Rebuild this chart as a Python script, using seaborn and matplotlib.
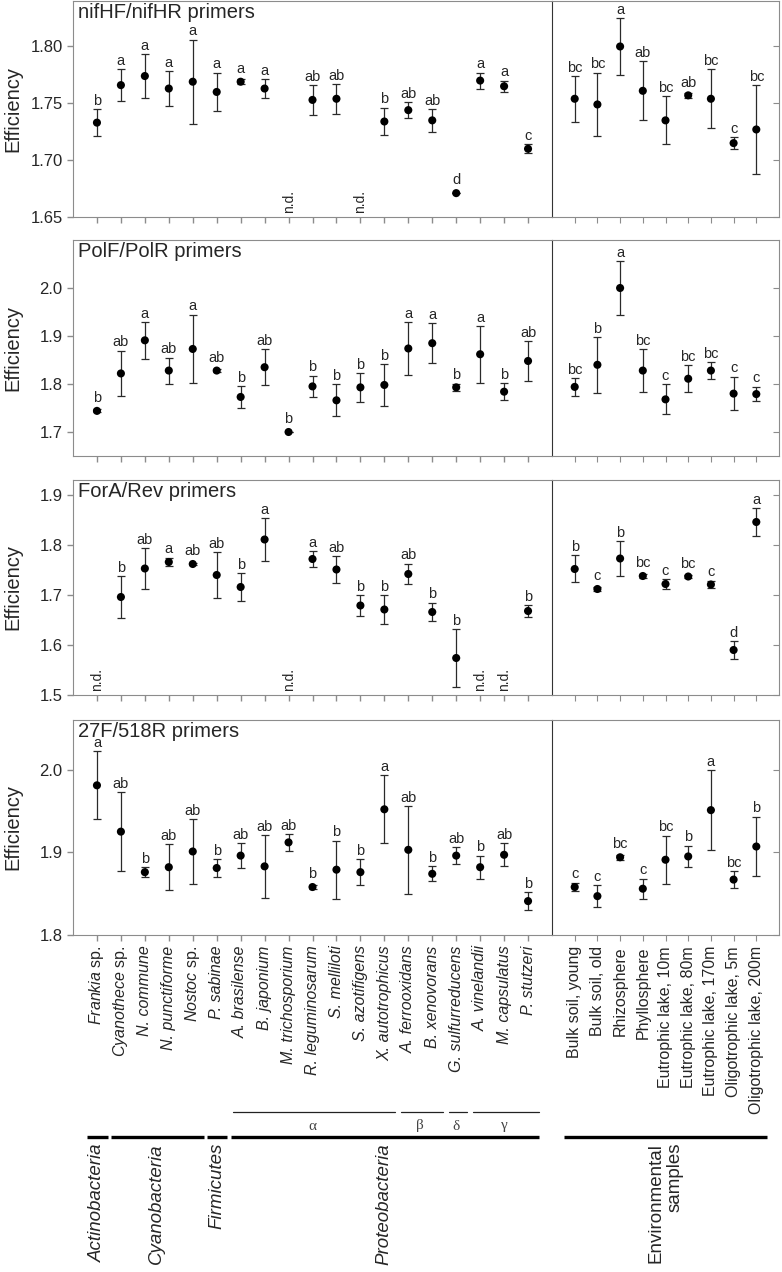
import numpy as np
import pandas as pd
import matplotlib
matplotlib.use('Agg')
import matplotlib.pyplot as plt
import matplotlib.transforms as mtransforms
import seaborn as sns

# category names
species = ['Frankia $\\mathrm{sp.}$', 'Cyanothece $\\mathrm{sp.}$', 'N. commune', 'N. punctiforme',
           'Nostoc $\\mathrm{sp.}$', 'P. sabinae', 'A. brasilense', 'B. japonium', 'M. trichosporium',
           'R. leguminosarum', 'S. melliloti', 'S. azotifigens', 'X. autotrophicus', 'A. ferrooxidans',
           'B. xenovorans', 'G. sulfurreducens', 'A. vinelandii', 'M. capsulatus', 'P. stutzeri']
env_samples = ['Bulk soil, young', 'Bulk soil, old', 'Rhizosphere', 'Phyllosphere',
               'Eutrophic lake, 10m', 'Eutrophic lake, 80m', 'Eutrophic lake, 170m',
               'Oligotrophic lake, 5m', 'Oligotrophic lake, 200m']

nan = np.nan

# nifHF/nifHR
nif_sp_mean = [1.733, 1.766, 1.774, 1.763, 1.769, 1.760, 1.769, 1.763, nan, 1.753, 1.754, nan,
               1.734, 1.744, 1.735, 1.671, 1.770, 1.765, 1.710]
nif_sp_err = [0.012, 0.014, 0.019, 0.015, 0.037, 0.017, 0.002, 0.008, nan, 0.013, 0.013, nan,
              0.012, 0.007, 0.010, 0.0, 0.007, 0.005, 0.004]
nif_sp_let = ['b', 'a', 'a', 'a', 'a', 'a', 'a', 'a', '', 'ab', 'ab', '', 'b', 'ab', 'ab', 'd', 'a', 'a', 'c']
nif_env_mean = [1.754, 1.749, 1.800, 1.761, 1.735, 1.757, 1.754, 1.715, 1.727]
nif_env_err = [0.020, 0.028, 0.025, 0.026, 0.021, 0.002, 0.026, 0.005, 0.039]
nif_env_let = ['bc', 'bc', 'a', 'ab', 'bc', 'ab', 'bc', 'c', 'bc']

# PolF/PolR
pol_sp_mean = [1.744, 1.822, 1.891, 1.828, 1.873, 1.828, 1.773, 1.835, 1.700, 1.795, 1.766, 1.793,
               1.798, 1.874, 1.885, 1.793, 1.862, 1.784, 1.848]
pol_sp_err = [0.003, 0.047, 0.038, 0.027, 0.071, 0.003, 0.023, 0.038, 0.0, 0.022, 0.033, 0.030,
              0.043, 0.055, 0.042, 0.008, 0.059, 0.018, 0.041]
pol_sp_let = ['b', 'ab', 'a', 'ab', 'a', 'ab', 'b', 'ab', 'b', 'b', 'b', 'b', 'b', 'a', 'a', 'b', 'a', 'b', 'ab']
pol_env_mean = [1.794, 1.840, 2.000, 1.828, 1.768, 1.811, 1.828, 1.780, 1.779]
pol_env_err = [0.018, 0.058, 0.056, 0.044, 0.031, 0.028, 0.017, 0.035, 0.015]
pol_env_let = ['bc', 'b', 'a', 'bc', 'c', 'bc', 'bc', 'c', 'c']

# ForA/Rev
for_sp_mean = [nan, 1.696, 1.753, 1.766, 1.762, 1.740, 1.716, 1.811, nan, 1.772, 1.751, 1.679,
               1.671, 1.742, 1.666, 1.574, nan, nan, 1.668]
for_sp_err = [nan, 0.042, 0.041, 0.008, 0.003, 0.046, 0.028, 0.043, nan, 0.016, 0.026, 0.021,
              0.029, 0.021, 0.019, 0.058, nan, nan, 0.012]
for_sp_let = ['', 'b', 'ab', 'a', 'ab', 'ab', 'b', 'a', '', 'a', 'ab', 'b', 'b', 'ab', 'b', 'b', '', '', 'b']
for_env_mean = [1.752, 1.712, 1.773, 1.738, 1.722, 1.737, 1.721, 1.590, 1.846]
for_env_err = [0.027, 0.005, 0.035, 0.004, 0.010, 0.003, 0.007, 0.018, 0.028]
for_env_let = ['b', 'c', 'b', 'bc', 'c', 'bc', 'c', 'd', 'a']

# 27F/518R
r16_sp_mean = [1.981, 1.925, 1.876, 1.882, 1.901, 1.881, 1.896, 1.883, 1.912, 1.858, 1.879, 1.876,
               1.952, 1.903, 1.874, 1.896, 1.882, 1.897, 1.841]
r16_sp_err = [0.041, 0.048, 0.006, 0.028, 0.039, 0.011, 0.015, 0.038, 0.010, 0.002, 0.035, 0.016,
              0.041, 0.053, 0.009, 0.010, 0.014, 0.014, 0.011]
r16_sp_let = ['a', 'ab', 'b', 'ab', 'ab', 'b', 'ab', 'ab', 'ab', 'b', 'b', 'b', 'a', 'ab', 'b', 'ab', 'b', 'ab', 'b']
r16_env_mean = [1.858, 1.847, 1.894, 1.856, 1.891, 1.895, 1.951, 1.867, 1.907]
r16_env_err = [0.005, 0.013, 0.003, 0.012, 0.029, 0.013, 0.048, 0.010, 0.036]
r16_env_let = ['c', 'c', 'bc', 'c', 'bc', 'b', 'a', 'bc', 'b']

panels = [
    ('nifHF/nifHR primers', (1.65, 1.84), [1.65, 1.70, 1.75, 1.80], '{:.2f}',
     nif_sp_mean, nif_sp_err, nif_sp_let, nif_env_mean, nif_env_err, nif_env_let),
    ('PolF/PolR primers', (1.65, 2.10), [1.7, 1.8, 1.9, 2.0], '{:.1f}',
     pol_sp_mean, pol_sp_err, pol_sp_let, pol_env_mean, pol_env_err, pol_env_let),
    ('ForA/Rev primers', (1.50, 1.93), [1.5, 1.6, 1.7, 1.8, 1.9], '{:.1f}',
     for_sp_mean, for_sp_err, for_sp_let, for_env_mean, for_env_err, for_env_let),
    ('27F/518R primers', (1.80, 2.06), [1.8, 1.9, 2.0], '{:.1f}',
     r16_sp_mean, r16_sp_err, r16_sp_let, r16_env_mean, r16_env_err, r16_env_let),
]

phyla = [('Actinobacteria', 1, 1), ('Cyanobacteria', 2, 5), ('Firmicutes', 6, 6), ('Proteobacteria', 7, 19)]
classes = [('α', 7, 13), ('β', 14, 15), ('δ', 16, 16), ('γ', 17, 19)]

sns.set_style('ticks')
plt.rcParams['font.family'] = ['Liberation Sans', 'DejaVu Sans']
plt.rcParams['mathtext.fontset'] = 'custom'
plt.rcParams['mathtext.rm'] = 'Liberation Sans'
plt.rcParams['mathtext.it'] = 'Liberation Sans:italic'

W, H = 782, 1272
fig = plt.figure(figsize=(W / 100, H / 100), dpi=100)
GRAY = '#8c8c8c'


def add_px_axes(x0, y0, x1, y1):
    return fig.add_axes([x0 / W, 1 - y1 / H, (x1 - x0) / W, (y1 - y0) / H])


def draw(ax, names, mean, err, letters, ylim, yticks):
    pos = np.arange(1, len(names) + 1)
    df = pd.DataFrame({'pos': pos, 'eff': mean, 'err': err, 'letter': letters})
    ok = df.dropna(subset=['eff'])
    ax.errorbar(ok['pos'], ok['eff'], yerr=ok['err'], fmt='none', ecolor='#2a2a2a',
                elinewidth=0.9, capsize=3, capthick=0.9, zorder=2)
    sns.scatterplot(data=ok, x='pos', y='eff', color='black', s=34, edgecolor='none',
                    ax=ax, zorder=3, legend=False)
    ax.set_xlim(0, len(names) + 1)
    ax.set_ylim(*ylim)
    ax.set_yticks(yticks)
    ax.set_xticks(pos)
    ax.set_xlabel('')
    ax.set_ylabel('')
    # points per data unit, to keep letters clear of the dots
    h_pt = ax.get_position().height * H * 0.72
    ppd = h_pt / (ylim[1] - ylim[0])
    for _, r in df.iterrows():
        if np.isnan(r['eff']):
            ax.annotate('n.d.', (r['pos'], ylim[0]), xytext=(0, 3), textcoords='offset points',
                        rotation=90, ha='center', va='bottom', fontsize=10)
            continue
        off = 1 + max(0.0, 3.2 - r['err'] * ppd)
        ax.annotate(r['letter'], (r['pos'], r['eff'] + r['err']), xytext=(0, off),
                    textcoords='offset points', ha='center', va='bottom', fontsize=10.5)


rows = [(1, 217), (240, 456), (480, 695), (720, 935)]
bottom_axes = None
for (y0, y1), (title, ylim, yticks, fmt, spm, spe, spl, evm, eve, evl) in zip(rows, panels):
    axl = add_px_axes(73, y0, 552, y1)
    axr = add_px_axes(552, y0, 779, y1)
    draw(axl, species, spm, spe, spl, ylim, yticks)
    draw(axr, env_samples, evm, eve, evl, ylim, yticks)

    axl.set_yticklabels([fmt.format(t) for t in yticks], fontsize=12)
    axl.set_ylabel('Efficiency', fontsize=14.5)
    axl.yaxis.set_label_coords(-0.105, 0.5)
    axl.text(0.011, 0.993, title, transform=axl.transAxes, ha='left', va='top', fontsize=14.5)

    for sp in axl.spines.values():
        sp.set_color(GRAY)
    axl.spines['right'].set_visible(False)
    for sp in axr.spines.values():
        sp.set_color(GRAY)
    axr.spines['left'].set_color('#333333')
    axl.tick_params(axis='both', color=GRAY, length=4.5, width=1, direction='out', pad=3)
    axr.yaxis.tick_right()
    axr.tick_params(axis='y', direction='in', length=4, color=GRAY, labelright=False)
    axr.tick_params(axis='x', direction='out', length=4.5, color=GRAY)
    axl.set_xticklabels([])
    axr.set_xticklabels([])
    bottom_axes = (axl, axr)

axl, axr = bottom_axes
axl.set_xticklabels(species, rotation=90, fontsize=11.5, fontstyle='italic')
axr.set_xticklabels(env_samples, rotation=90, fontsize=11.5)

# group brackets below the bottom panels
y_thin, y_greek, y_thick, y_text = [1 - v / H for v in (1112, 1126, 1137, 1143)]
trl = mtransforms.blended_transform_factory(axl.transData, fig.transFigure)
trr = mtransforms.blended_transform_factory(axr.transData, fig.transFigure)

for name, a, b in classes:
    axl.plot([a - 0.3, b + 0.45], [y_thin, y_thin], transform=trl, clip_on=False, color='#222', lw=0.9)
    axl.text((a + b) / 2, y_greek, name, transform=trl, ha='center', va='center',
             fontsize=11, color='#444', family=['Liberation Serif', 'DejaVu Serif'])

for name, a, b in phyla:
    axl.plot([a - 0.4, b + 0.45], [y_thick, y_thick], transform=trl, clip_on=False, color='black', lw=2.4,
             solid_capstyle='butt')
    axl.text((a + b) / 2, y_text, name, transform=trl, rotation=90, ha='center', va='top',
             fontsize=13.5, fontstyle='italic')

axr.plot([0.55, 9.48], [y_thick, y_thick], transform=trr, clip_on=False, color='black', lw=2.4,
         solid_capstyle='butt')
axr.text(5, y_text, 'Environmental\nsamples', transform=trr, rotation=90, ha='center', va='top',
         multialignment='right', fontsize=13.5)

fig.savefig('out.png', dpi=100)
